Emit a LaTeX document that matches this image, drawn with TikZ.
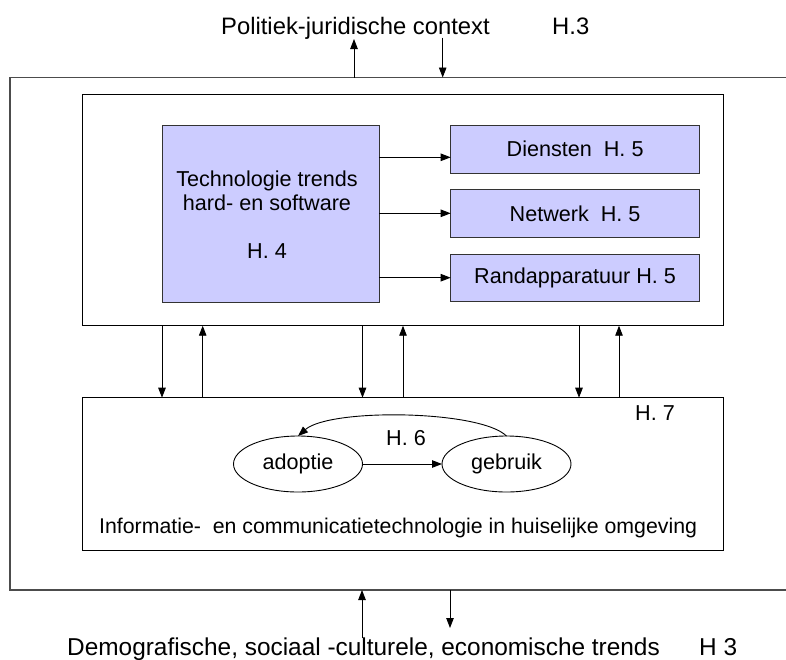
\documentclass[tikz,border=0pt]{standalone}
\usepackage{fontspec}
\setmainfont{Liberation Sans}
\usetikzlibrary{arrows.meta,shapes.geometric}
\definecolor{boxblue}{RGB}{204,204,255}
\begin{document}
\begin{tikzpicture}[x=1pt,y=-1pt,
  panel/.style={draw=black, line width=0.9pt, outer sep=0pt, inner sep=0pt},
  bluebox/.style={draw=black!80, line width=1pt, fill=boxblue, outer sep=0pt, inner sep=0pt, align=center},
  conn/.style={line width=0.9pt, -{Triangle[length=10pt,width=7.5pt]}},
  oval/.style={ellipse, draw, line width=0.9pt, minimum width=129pt, minimum height=56pt, inner sep=0pt, outer sep=0pt},
  toptext/.style={font=\fontsize{23.8}{28}\selectfont, inner sep=0pt, anchor=base west},
  bottext/.style={font=\fontsize{24.4}{28}\selectfont, inner sep=0pt, anchor=base west},
  midtext/.style={font=\fontsize{21.6}{24}\selectfont}
]
\useasboundingbox (0,0) rectangle (786,659);
\clip (0,0) rectangle (786,659);

% outer context frame (runs past the right edge)
\node[panel, draw=black!70, line width=1.3pt, minimum width=785pt, minimum height=512.5pt] (outer) at (402.5,333.75) {};

% technology block
\node[panel, minimum width=641.3pt, minimum height=231.7pt] (top) at (402.65,209.85) {};
\node[bluebox, minimum width=217.3pt, minimum height=176.5pt] (tech) at (270.65,213.75) {};
\node[midtext, align=center, inner sep=0pt] (techtext) at (267,215)
  {Technologie trends\\hard- en software\\[24pt]H. 4};
\node[bluebox, midtext, minimum width=248.8pt, minimum height=48.3pt] (dienst) at (575.1,149.15) {Diensten\ \ H. 5};
\node[bluebox, midtext, minimum width=248.8pt, minimum height=48pt] (netwerk) at (575.1,213.3) {Netwerk\ \ H. 5};
\node[bluebox, midtext, minimum width=248.8pt, minimum height=47.7pt] (rand) at (575.1,277.85) {Randapparatuur H. 5};

\coordinate (r1) at (0,157.3);
\coordinate (r2) at (0,213.3);
\coordinate (r3) at (0,277.7);
\draw[conn] (tech.east |- r1) -- (dienst.west |- r1);
\draw[conn] (tech.east |- r2) -- (netwerk.west |- r2);
\draw[conn] (tech.east |- r3) -- (rand.west |- r3);

% household ICT block
\node[panel, minimum width=641.3pt, minimum height=152.3pt] (home) at (402.65,473.85) {};
\node[oval, midtext] (adoptie) at (298,464) {adoptie};
\node[oval, midtext] (gebruik) at (506.5,464) {gebruik};
\draw[conn] (adoptie.east) -- (gebruik.west);
\draw[conn] (gebruik.north) .. controls (480,410) and (330,408) .. (adoptie.north);
\node[midtext, inner sep=0pt, anchor=base west] (h6) at (386,445) {H. 6};
\node[midtext, inner sep=0pt, anchor=base west] (h7) at (635,420) {H. 7};
\node[font=\fontsize{21.3}{24}\selectfont, inner sep=0pt, anchor=base west] (ict) at (99,533)
  {Informatie-\ \ en communicatietechnologie in huiselijke omgeving};

% exchanges between the two blocks
\coordinate (v1) at (162,0);
\coordinate (v2) at (202.7,0);
\coordinate (v3) at (362.5,0);
\coordinate (v4) at (403,0);
\coordinate (v5) at (579,0);
\coordinate (v6) at (619,0);
\draw[conn] (top.south -| v1) -- (home.north -| v1);
\draw[conn] (home.north -| v2) -- (top.south -| v2);
\draw[conn] (top.south -| v3) -- (home.north -| v3);
\draw[conn] (home.north -| v4) -- (top.south -| v4);
\draw[conn] (top.south -| v5) -- (home.north -| v5);
\draw[conn] (home.north -| v6) -- (top.south -| v6);

% political-legal context
\node[toptext] (pol) at (221,34) {Politiek-juridische context};
\node[toptext] (polh) at (552,34) {H.3};
\coordinate (pu) at (354,39);
\coordinate (pd) at (442.7,37.7);
\draw[conn] (outer.north -| pu) -- (pu);
\draw[conn] (pd) -- (outer.north -| pd);

% demographic, socio-cultural and economic trends
\node[bottext] (demo) at (67,655) {Demografische, sociaal -culturele, economische trends};
\node[bottext] (demoh) at (699,655) {H 3};
\coordinate (bu) at (362,638);
\coordinate (bd) at (450,628);
\draw[conn] (bu) -- (outer.south -| bu);
\draw[conn] (outer.south -| bd) -- (bd);
\end{tikzpicture}
\end{document}
